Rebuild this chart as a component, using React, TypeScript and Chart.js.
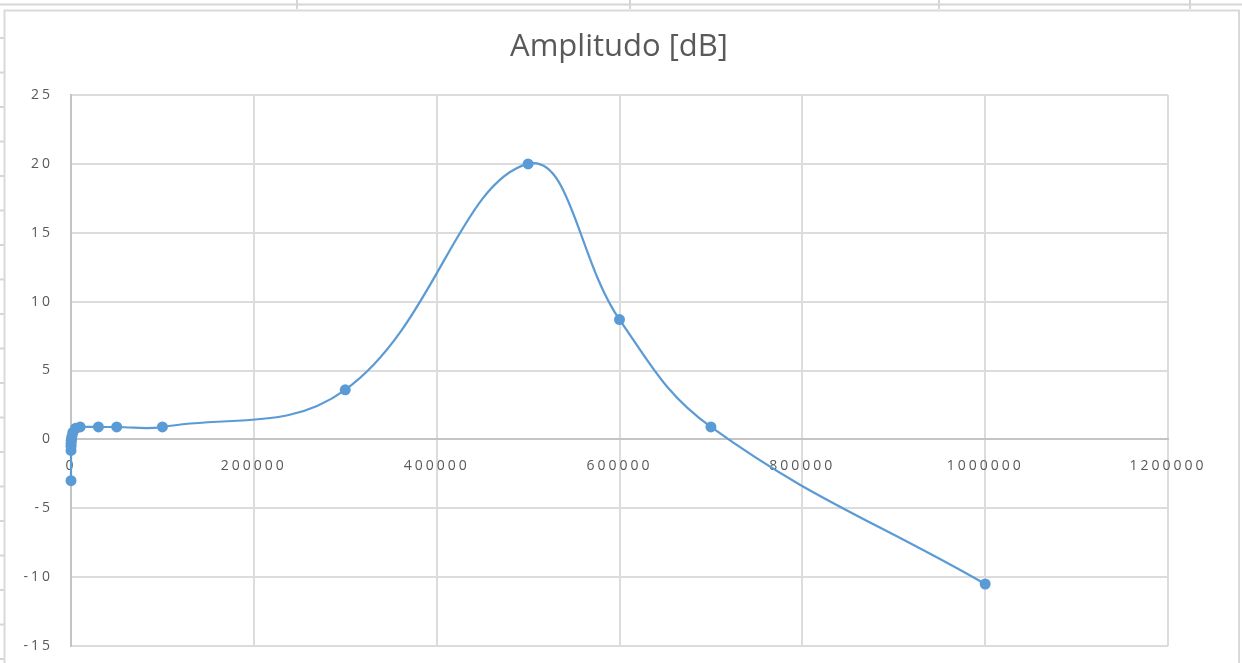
import React, { useEffect, useRef } from "react";
import { Chart, registerables } from "chart.js";

Chart.register(...registerables);

const frequencies = [10, 20, 50, 100, 200, 500, 1000, 2000, 5000, 10000, 30000, 50000, 100000, 300000, 500000, 600000, 700000, 1000000];
const amplitudes = [-3, -0.8, -0.5, -0.3, -0.1, 0, 0.2, 0.5, 0.8, 0.9, 0.9, 0.9, 0.9, 3.6, 20, 8.7, 0.9, -10.5];
const xTickValues = [0, 200000, 400000, 600000, 800000, 1000000, 1200000];
const yTickValues = [-15, -10, -5, 0, 5, 10, 15, 20, 25];
const chartTitle = "Amplitudo [dB]";

const W = 1242;
const H = 663;
const BLUE = "#5B9BD5";
const GRID = "#dcdcdc";
const TEXT = "#595959";

const framePlugin = {
  id: "sheetFrame",
  beforeDraw(chart: any) {
    const ctx = chart.ctx as CanvasRenderingContext2D;
    ctx.save();
    ctx.fillStyle = "#ffffff";
    ctx.fillRect(0, 0, W, H);
    ctx.strokeStyle = "#d6d6d6";
    ctx.lineWidth = 2;
    const line = (x1: number, y1: number, x2: number, y2: number) => {
      ctx.beginPath();
      ctx.moveTo(x1, y1);
      ctx.lineTo(x2, y2);
      ctx.stroke();
    };
    line(0, 4.5, W, 4.5);
    [297, 630, 939, 1190].forEach((x) => line(x, 0, x, 9));
    for (let y = 38; y < H; y += 34.5) line(0, y, 4, y);
    ctx.strokeStyle = "#d9d9d9";
    ctx.strokeRect(4.5, 10.5, 1234.5, 700);
    ctx.restore();
    (ctx as any).letterSpacing = "3px";
  },
  afterDraw(chart: any) {
    const ctx = chart.ctx as CanvasRenderingContext2D;
    ctx.save();
    (ctx as any).letterSpacing = "0px";
    ctx.font = '31px "Open Sans"';
    ctx.fillStyle = TEXT;
    ctx.textAlign = "center";
    ctx.textBaseline = "alphabetic";
    ctx.fillText(chartTitle, 619, 56);
    ctx.restore();
  },
};

export default function App() {
  const canvasRef = useRef<HTMLCanvasElement | null>(null);

  useEffect(() => {
    const canvas = canvasRef.current;
    if (!canvas) return;
    const chart = new Chart(canvas, {
      type: "scatter",
      data: {
        datasets: [
          {
            label: chartTitle,
            data: frequencies.map((f, i) => ({ x: f, y: amplitudes[i] })),
            showLine: true,
            clip: false,
            borderColor: BLUE,
            backgroundColor: BLUE,
            borderWidth: 2.2,
            pointRadius: 5.5,
            pointBorderWidth: 0,
            pointBackgroundColor: BLUE,
            tension: 0.4,
          },
        ],
      },
      options: {
        responsive: false,
        animation: false,
        devicePixelRatio: 1,
        layout: { padding: { top: 95, bottom: 17, left: 0, right: 74 } },
        plugins: {
          legend: { display: false },
          title: { display: false },
          tooltip: { enabled: false },
        },
        scales: {
          x: {
            type: "linear",
            position: { y: 0 } as any,
            min: 0,
            max: 1200000,
            afterBuildTicks: (scale: any) => {
              scale.ticks = xTickValues.map((v) => ({ value: v }));
            },
            afterFit: (scale: any) => {
              scale.height = 0;
              scale.paddingTop = 0;
              scale.paddingBottom = 0;
            },
            grid: { color: GRID, lineWidth: 2, drawTicks: false },
            border: { color: "#c4c4c4", width: 2 },
            ticks: {
              autoSkip: false,
              maxRotation: 0,
              padding: 18,
              color: TEXT,
              font: { family: "Open Sans", size: 14 },
              callback: (v: any) => String(v),
            },
          },
          y: {
            type: "linear",
            position: "left",
            min: -15,
            max: 25,
            afterBuildTicks: (scale: any) => {
              scale.ticks = yTickValues.map((v) => ({ value: v }));
            },
            afterFit: (scale: any) => {
              scale.width = 71;
              scale.paddingTop = 0;
              scale.paddingBottom = 0;
            },
            grid: { color: GRID, lineWidth: 2, drawTicks: false },
            border: { color: "#c4c4c4", width: 2 },
            ticks: {
              padding: 18,
              color: TEXT,
              font: { family: "Open Sans", size: 14 },
              callback: (v: any) => String(v),
            },
          },
        },
      },
      plugins: [framePlugin],
    });
    return () => chart.destroy();
  }, []);

  return (
    <div style={{ position: "absolute", left: 0, top: 0, width: W, height: H, background: "#fff" }}>
      <canvas ref={canvasRef} width={W} height={H} style={{ display: "block", width: W, height: H }} />
    </div>
  );
}
